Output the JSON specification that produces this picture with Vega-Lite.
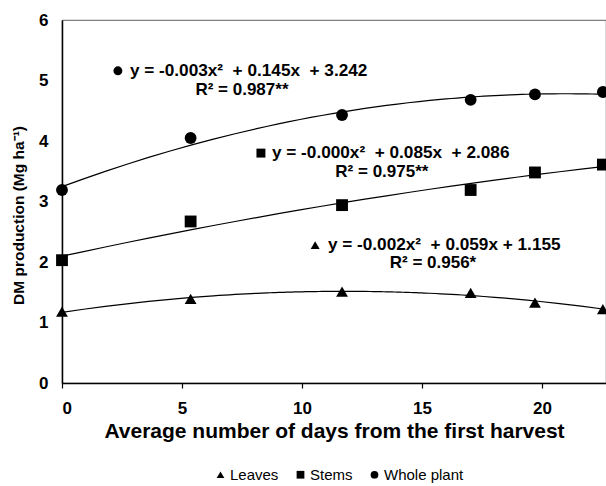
{
  "$schema": "https://vega.github.io/schema/vega-lite/v6.json",
  "autosize": "none",
  "width": 544,
  "height": 363,
  "padding": {"left": 62, "top": 20, "right": 0, "bottom": 103},
  "background": "white",
  "config": {
    "font": "Liberation Sans",
    "view": {"stroke": "#808080", "strokeWidth": 1.2}
  },
  "datasets": {
    "obs": [
      {"days": 0, "dm": 3.19, "part": "Whole plant"},
      {"days": 5.36, "dm": 4.05, "part": "Whole plant"},
      {"days": 11.67, "dm": 4.43, "part": "Whole plant"},
      {"days": 17.03, "dm": 4.68, "part": "Whole plant"},
      {"days": 19.71, "dm": 4.77, "part": "Whole plant"},
      {"days": 22.54, "dm": 4.81, "part": "Whole plant"},
      {"days": 0, "dm": 2.03, "part": "Stems"},
      {"days": 5.36, "dm": 2.67, "part": "Stems"},
      {"days": 11.67, "dm": 2.94, "part": "Stems"},
      {"days": 17.03, "dm": 3.19, "part": "Stems"},
      {"days": 19.71, "dm": 3.48, "part": "Stems"},
      {"days": 22.54, "dm": 3.61, "part": "Stems"},
      {"days": 0, "dm": 1.18, "part": "Leaves"},
      {"days": 5.36, "dm": 1.39, "part": "Leaves"},
      {"days": 11.67, "dm": 1.51, "part": "Leaves"},
      {"days": 17.03, "dm": 1.49, "part": "Leaves"},
      {"days": 19.71, "dm": 1.33, "part": "Leaves"},
      {"days": 22.54, "dm": 1.22, "part": "Leaves"}
    ],
    "eqs": [
      {"part": "Whole plant", "mx": 2.33, "my": 5.16, "tx": 2.83, "eq": "y = -0.003x²\u00a0 + 0.145x\u00a0 + 3.242", "rx": 7.5, "ry": 4.84, "r2": "R² = 0.987**"},
      {"part": "Stems", "mx": 8.29, "my": 3.8, "tx": 8.75, "eq": "y = -0.000x²\u00a0 + 0.085x\u00a0 + 2.086", "rx": 13.33, "ry": 3.49, "r2": "R² = 0.975**"},
      {"part": "Leaves", "mx": 10.55, "my": 2.28, "tx": 11.08, "eq": "y = -0.002x²\u00a0 + 0.059x + 1.155", "rx": 15.46, "ry": 1.98, "r2": "R² = 0.956*"}
    ]
  },
  "layer": [
    {
      "data": {"name": "obs"},
      "transform": [
        {"regression": "dm", "on": "days", "groupby": ["part"], "method": "poly", "order": 2, "extent": [0, 22.54]}
      ],
      "mark": {"type": "line", "color": "black", "strokeWidth": 1.2},
      "encoding": {
        "x": {"field": "days", "type": "quantitative"},
        "y": {"field": "dm", "type": "quantitative"},
        "detail": {"field": "part"}
      }
    },
    {
      "data": {"name": "obs"},
      "mark": {"type": "point", "filled": true, "opacity": 1, "color": "black"},
      "encoding": {
        "x": {
          "field": "days", "type": "quantitative",
          "scale": {"domain": [0, 22.67], "nice": false, "zero": false},
          "axis": {
            "values": [0, 5, 10, 15, 20], "format": "d",
            "title": "Average number of days from the first harvest",
            "titleFontSize": 21, "titleFontWeight": "bold", "titleColor": "black", "titlePadding": 4,
            "labelFontSize": 17, "labelFontWeight": "bold", "labelColor": "black", "labelPadding": 12,
            "grid": false, "domainColor": "black", "domainWidth": 1.5,
            "tickColor": "black", "tickSize": 5, "tickWidth": 1.2
          }
        },
        "y": {
          "field": "dm", "type": "quantitative",
          "scale": {"domain": [0, 6], "nice": false},
          "axis": {
            "values": [0, 1, 2, 3, 4, 5, 6], "format": "d",
            "title": "DM production (Mg ha⁻¹)",
            "titleFontSize": 15.5, "titleFontWeight": "bold", "titleColor": "black", "titlePadding": 12,
            "titleY": 195,
            "labelFontSize": 17, "labelFontWeight": "bold", "labelColor": "black", "labelPadding": 14,
            "grid": false, "ticks": false, "domainColor": "black", "domainWidth": 1.5
          }
        },
        "shape": {
          "field": "part", "type": "nominal",
          "scale": {"domain": ["Leaves", "Stems", "Whole plant"], "range": ["triangle-up", "square", "circle"]},
          "legend": {
            "title": null, "orient": "none", "direction": "horizontal",
            "legendX": 151, "legendY": 447,
            "labelFontSize": 15, "labelColor": "black", "symbolSize": 60,
            "symbolFillColor": "black", "symbolStrokeColor": "black",
            "columnPadding": 14, "labelOffset": 2
          }
        },
        "size": {"value": 140}
      }
    },
    {
      "data": {"name": "eqs"},
      "mark": {"type": "point", "filled": true, "opacity": 1, "color": "black", "size": 80},
      "encoding": {
        "x": {"field": "mx", "type": "quantitative"},
        "y": {"field": "my", "type": "quantitative"},
        "shape": {"field": "part", "type": "nominal"}
      }
    },
    {
      "data": {"name": "eqs"},
      "mark": {"type": "text", "align": "left", "baseline": "middle", "fontSize": 17.2, "fontWeight": "bold", "color": "black"},
      "encoding": {
        "x": {"field": "tx", "type": "quantitative"},
        "y": {"field": "my", "type": "quantitative"},
        "text": {"field": "eq"}
      }
    },
    {
      "data": {"name": "eqs"},
      "mark": {"type": "text", "align": "center", "baseline": "middle", "fontSize": 17, "fontWeight": "bold", "color": "black"},
      "encoding": {
        "x": {"field": "rx", "type": "quantitative"},
        "y": {"field": "ry", "type": "quantitative"},
        "text": {"field": "r2"}
      }
    }
  ]
}
